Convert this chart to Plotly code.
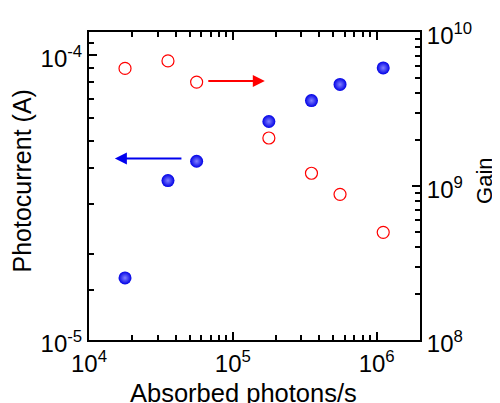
import plotly.graph_objects as go

photons = [1.78e4, 3.54e4, 5.6e4, 1.78e5, 3.52e5, 5.56e5, 1.11e6]
photocurrent = [1.65e-5, 3.62e-5, 4.23e-5, 5.83e-5, 6.9e-5, 7.86e-5, 8.98e-5]
gain = [5.8e9, 6.49e9, 4.73e9, 2.05e9, 1.21e9, 8.83e8, 5.0e8]

x_ticks = [1e4, 1e5, 1e6]
x_text = ["10<sup>4</sup>", "10<sup>5</sup>", "10<sup>6</sup>"]
yl_ticks = [1e-5, 1e-4]
yl_text = ["10<sup>-5</sup>", "10<sup>-4</sup>"]
yr_ticks = [1e8, 1e9, 1e10]
yr_text = ["10<sup>8</sup>", "10<sup>9</sup>", "10<sup>10</sup>"]

FONT = "Liberation Sans, Arial, sans-serif"

fig = go.Figure()
fig.add_trace(go.Scatter(
    x=photons, y=photocurrent, mode="markers", yaxis="y",
    marker=dict(size=13, color="#0000e6", line=dict(width=0),
                gradient=dict(type="radial", color="#8080ff")),
    showlegend=False))
fig.add_trace(go.Scatter(
    x=photons, y=gain, mode="markers", yaxis="y2",
    marker=dict(size=12, color="rgba(0,0,0,0)", line=dict(width=1.2, color="#ff0000")),
    showlegend=False))

minor_x = [m * 10 ** e for e in (4, 5, 6) for m in range(2, 10) if m * 10 ** e < 2e6]
minor_yl = [m * 1e-5 for m in range(2, 10)] + [1.5e-5, 1.1e-4]
minor_yr = [m * 10 ** e for e in (8, 9) for m in range(2, 10)]

axis_common = dict(type="log", showgrid=False, zeroline=False, showline=True,
                   linecolor="black", linewidth=2, ticks="inside", ticklen=8,
                   tickwidth=2, tickcolor="black", automargin=False,
                   tickfont=dict(family=FONT, size=24, color="black"))
minor_style = dict(tickmode="array", ticks="inside", ticklen=5, tickwidth=1.5,
                   tickcolor="black")

# the page body adds an 8px offset, so the figure is 8px smaller and margins shifted
fig.update_layout(
    width=492, height=395,
    margin=dict(l=81, r=80, t=24, b=63),
    plot_bgcolor="white", paper_bgcolor="white",
    font=dict(family=FONT, color="black"),
    xaxis=dict(**axis_common, range=[4, 6.301], mirror="ticks",
               tickmode="array", tickvals=x_ticks, ticktext=x_text,
               ticklabelstandoff=1,
               minor=dict(**minor_style, tickvals=minor_x)),
    yaxis=dict(**axis_common, range=[-5, -3.9208],
               tickmode="array", tickvals=yl_ticks, ticktext=yl_text,
               ticklabelshift=4,
               minor=dict(**minor_style, tickvals=minor_yl)),
    yaxis2=dict(**axis_common, range=[8, 10], overlaying="y", side="right",
                tickmode="array", tickvals=yr_ticks, ticktext=yr_text,
                ticklabelshift=4,
                minor=dict(**minor_style, tickvals=minor_yr)),
)

# axis titles
fig.add_annotation(text="Absorbed photons/s", xref="paper", yref="paper",
                   x=0.4668, y=-0.172, xanchor="center", yanchor="middle",
                   showarrow=False, font=dict(family=FONT, size=25.5, color="black"))
fig.add_annotation(text="Photocurrent (A)", xref="paper", yref="paper",
                   x=-0.2054, y=0.5146, xanchor="center", yanchor="middle",
                   textangle=-90, showarrow=False,
                   font=dict(family=FONT, size=25, color="black"))
fig.add_annotation(text="Gain", xref="paper", yref="paper",
                   x=1.193, y=0.516, xanchor="center", yanchor="middle",
                   textangle=-90, showarrow=False,
                   font=dict(family=FONT, size=22, color="black"))

# direction arrows
fig.add_annotation(x=4.18, y=-4.364, ax=4.653, ay=-4.364, xref="x", yref="y",
                   axref="x", ayref="y", text="", showarrow=True,
                   arrowhead=2, arrowsize=1.2, arrowwidth=2, arrowcolor="#0000ee")
fig.add_annotation(x=5.222, y=9.682, ax=4.819, ay=9.682, xref="x", yref="y2",
                   axref="x", ayref="y2", text="", showarrow=True,
                   arrowhead=2, arrowsize=1.2, arrowwidth=2, arrowcolor="#ff0000")

fig.write_html("out.html")
